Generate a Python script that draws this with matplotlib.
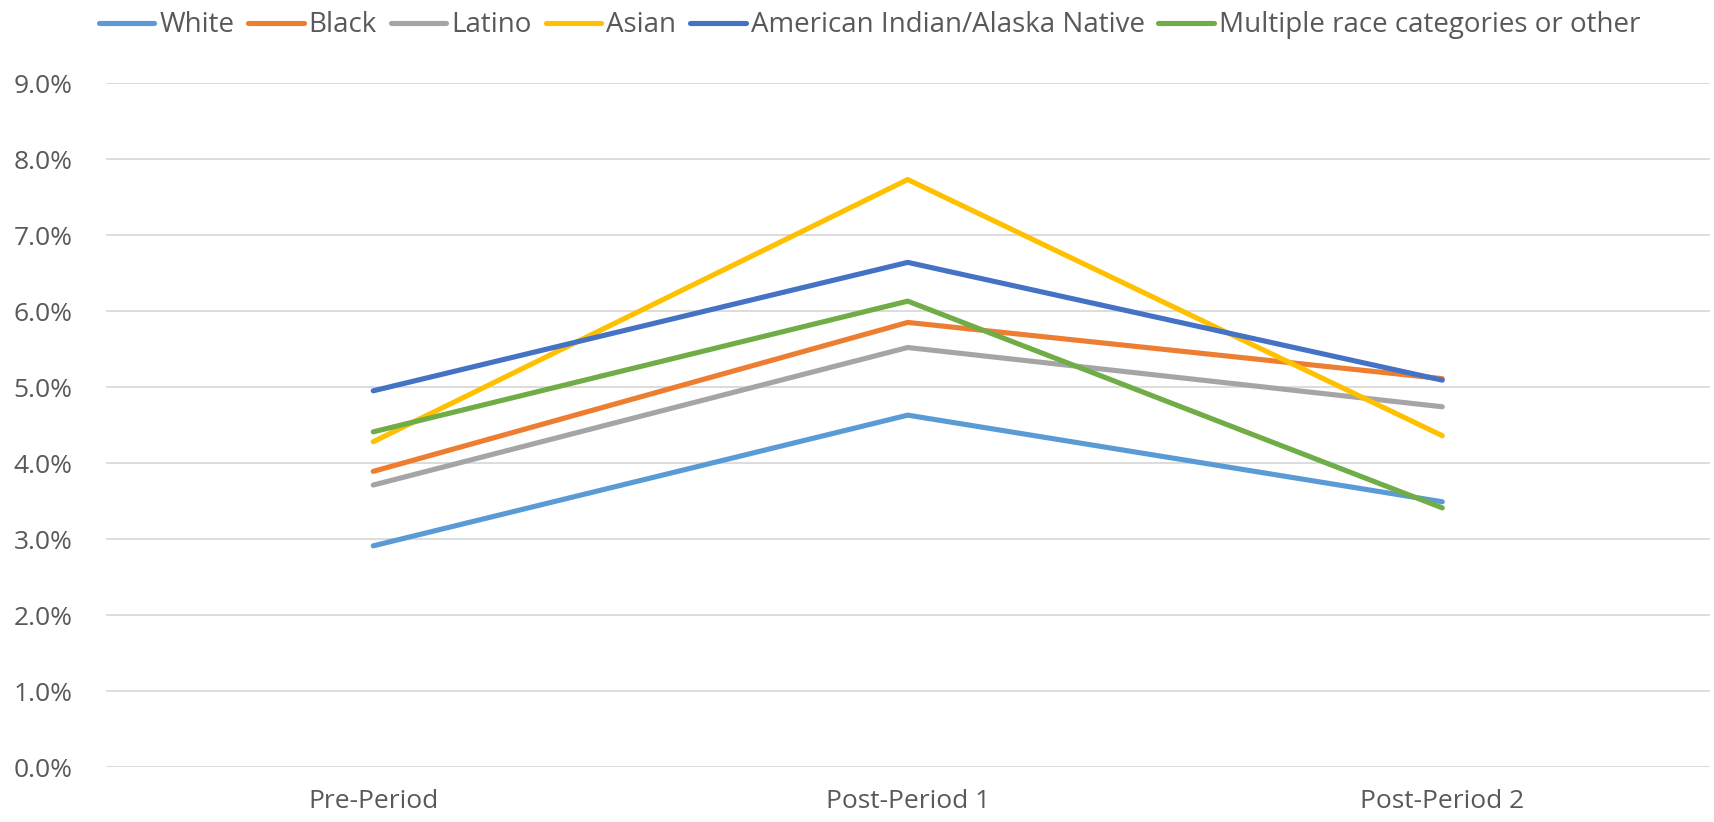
import matplotlib
matplotlib.use("Agg")
import matplotlib.pyplot as plt
from matplotlib.ticker import PercentFormatter

plt.rcParams["font.family"] = ["Open Sans", "DejaVu Sans"]

periods = ["Pre-Period", "Post-Period 1", "Post-Period 2"]
groups = ["White", "Black", "Latino", "Asian",
          "American Indian/Alaska Native", "Multiple race categories or other"]
white = [2.91, 4.63, 3.49]
black = [3.89, 5.85, 5.11]
latino = [3.71, 5.52, 4.74]
asian = [4.28, 7.73, 4.36]
aian = [4.95, 6.64, 5.09]
multiple = [4.41, 6.13, 3.41]
colors = ["#5B9BD5", "#ED7D31", "#A5A5A5", "#FFC000", "#4472C4", "#70AD47"]

series = [white, black, latino, asian, aian, multiple]
TXT = "#595959"

fig = plt.figure(figsize=(17.15, 8.22), dpi=100)
ax = fig.add_axes([0.0618, 0.0669, 0.935, 0.8321])

x = range(len(periods))
for name, vals, c in zip(groups, series, colors):
    ax.plot(x, vals, color=c, lw=3.7, solid_capstyle="round", label=name)

ax.set_xlim(-0.5, 2.5)
ax.set_ylim(0, 9)
ax.set_yticks(range(0, 10))
ax.yaxis.set_major_formatter(PercentFormatter(decimals=1))
ax.set_xticks(list(x))
ax.set_xticklabels(periods)
ax.grid(axis="y", color="#D9D9D9", lw=1.3)
ax.set_axisbelow(True)
for s in ax.spines.values():
    s.set_visible(False)
ax.tick_params(axis="both", length=0, labelsize=19, labelcolor=TXT)
ax.tick_params(axis="y", pad=24)
ax.tick_params(axis="x", pad=16)

fig.legend(loc="center", bbox_to_anchor=(0.507, 0.969), ncol=6, frameon=False,
           fontsize=20, labelcolor=TXT, handlelength=2.0, handletextpad=0.18,
           columnspacing=0.5, borderpad=0)

fig.savefig("out.png", dpi=100)
